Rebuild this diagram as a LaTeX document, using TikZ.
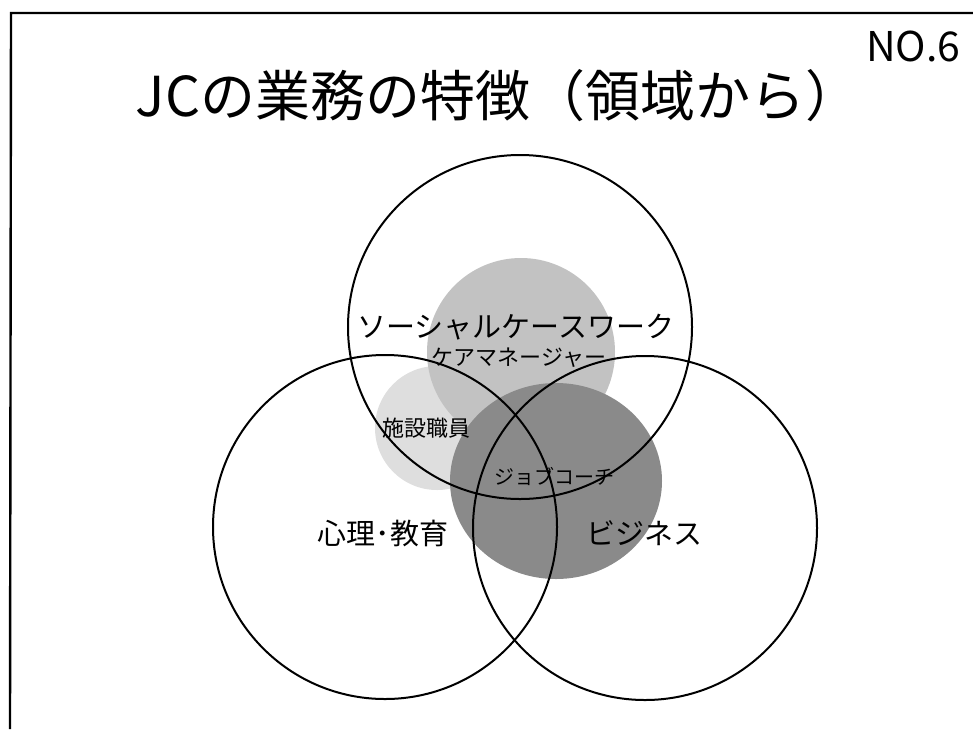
\documentclass[tikz,border=0pt]{standalone}
\usepackage{fontspec}
\setmainfont{Noto Sans CJK JP}
\begin{document}
\begin{tikzpicture}[x=1pt,y=-1pt,
  ring/.style={draw=black,line width=2pt},
  lbl/.style={inner sep=0pt,anchor=center,text=black},
  shadelight/.style={fill=black!13},
  shademid/.style={fill=black!24},
  shadedark/.style={fill=black!46}]
\useasboundingbox (0,0) rectangle (973,729);
\clip (0,0) rectangle (973,729);
% frame
\draw[line width=2.4pt] (10,729) -- (11,13) -- (980,13);
% shaded areas
\fill[shadelight] (437,428) circle[radius=62];
\fill[shademid] (521,352) circle[radius=94];
\fill[shadedark] (556,481) ellipse[x radius=106,y radius=98];
% big circles
\draw[ring] (520,327) circle[radius=172];
\draw[ring] (385,527) circle[radius=172];
\draw[ring] (645,528) circle[radius=172];
% texts
\node[lbl,anchor=base west,font=\fontsize{41}{46}\selectfont] (no) at (866,61) {NO.6};
\node[lbl,font=\fontsize{55}{60}\selectfont] (title) at (498,96) {JCの業務の特徴（領域から）};
\node[lbl,font=\fontsize{29}{32}\selectfont] (scw) at (516,327) {ソーシャルケースワーク};
\node[lbl,font=\fontsize{22}{25}\selectfont] (cm) at (519,358) {ケアマネージャー};
\node[lbl,font=\fontsize{22}{25}\selectfont] (sis) at (426,428) {施設職員};
\node[lbl,font=\fontsize{20}{23}\selectfont] (jc) at (554,476) {ジョブコーチ};
\node[lbl,font=\fontsize{29}{32}\selectfont] (psy) at (383,533) {心理･教育};
\node[lbl,font=\fontsize{29}{32}\selectfont] (biz) at (644,533) {ビジネス};
\end{tikzpicture}
\end{document}
